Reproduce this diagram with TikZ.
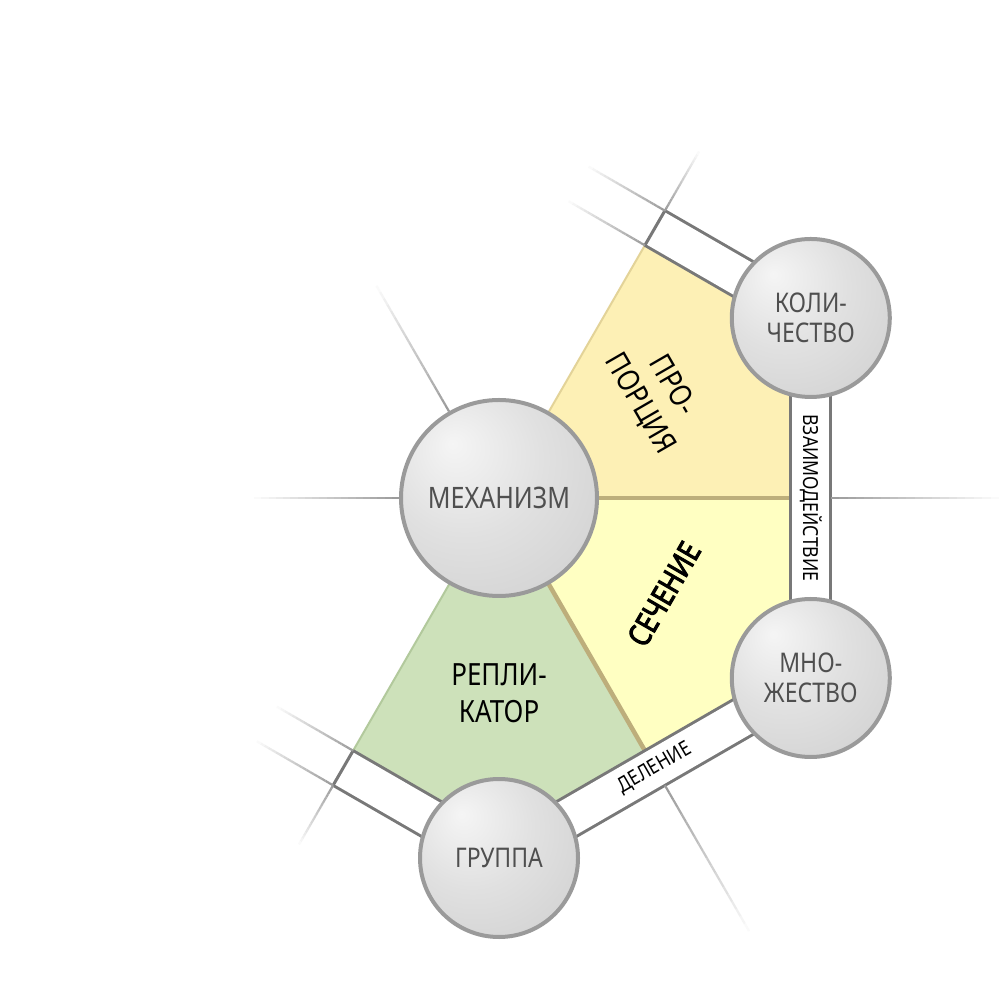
\documentclass[tikz,border=0pt]{standalone}
\usepackage{fontspec}
\setmainfont{Noto Sans}[FakeStretch=0.85]
\newfontfamily\heavyfont{Noto Sans}[FakeStretch=0.82, FakeBold=3]
\usetikzlibrary{calc,backgrounds}

\definecolor{bandgray}{HTML}{787878}
\definecolor{fadegray}{HTML}{9C9C9C}
\definecolor{hubline}{HTML}{9A9A9A}
\definecolor{hubtext}{HTML}{4F4F4F}
\definecolor{propfill}{HTML}{FDF0B5}
\definecolor{propline}{HTML}{E3D398}
\definecolor{sechfill}{HTML}{FFFFC2}
\definecolor{replfill}{HTML}{CDE1BA}
\definecolor{replline}{HTML}{B2C99C}
\definecolor{seamtan}{HTML}{BDAE7B}

\pgfdeclareradialshading{orb}{\pgfpoint{-12bp}{14bp}}{color(0bp)=(white!96!black); color(20bp)=(white!88!black); color(50bp)=(white!79!black); color(70bp)=(white!75!black)}

% line that fades out towards its end
\newcommand\fadeline[2]{%
  \foreach \k in {0,...,19}{%
    \pgfmathsetmacro\ta{\k/20}%
    \pgfmathsetmacro\tb{(\k+1)/20}%
    \pgfmathtruncatemacro\tint{100-5*\k}%
    \draw[fadegray!\tint, line width=0.022cm] ($#1!\ta!#2$) -- ($#1!\tb!#2$);
  }}

\begin{document}
\begin{tikzpicture}[
  hub/.style={circle, draw=hubline, line width=0.04cm, shade, shading=orb, inner sep=0pt,
    minimum size=1.58cm, align=center, text=hubtext, font=\fontsize{7.7}{8.4}\selectfont},
  zone/.style={align=center, font=\fontsize{8.7}{10.6}\selectfont},
  band/.style={draw=bandgray, line width=0.03cm, double=white, double distance=0.37cm},
  tag/.style={font=\fontsize{5.9}{7}\selectfont, inner sep=0pt},
  seam/.style={seamtan, line width=0.045cm}]
  \useasboundingbox (-4.99,-5.02) rectangle (5.01,4.98);

  % Noeuds
  \node[hub, minimum size=1.96cm, font=\fontsize{8.4}{10}\selectfont] (mech) at (0,0) {МЕХАНИЗМ};
  \node[hub] (kol) at (30:3.6) {КОЛИ-\\ЧЕСТВО};
  \node[hub] (mno) at (-30:3.6) {МНО-\\ЖЕСТВО};
  \node[hub] (grp) at (-90:3.6) {ГРУППА};
  \coordinate (kp) at (60:3.1177);
  \coordinate (gq) at (240:3.1177);

  % Zones
  \node[zone, rotate=-60] (prop) at (1.57,1.03) {ПРО-\\ПОРЦИЯ};
  \node[zone, rotate=60, font=\fontsize{8.8}{10}\heavyfont] (sech) at (1.65,-0.96) {СЕЧЕНИЕ};
  \node[zone] (repl) at (0,-1.95) {РЕПЛИ-\\КАТОР};

  \begin{scope}[on background layer]
    \fill[white] (-4.99,-5.02) rectangle (5.01,4.98);
    \fill[propfill] (mech.center) -- (60:2.9177) -- (2.9177,1.6845) -- (2.9177,0) -- cycle;
    \fill[sechfill] (mech.center) -- (2.9177,0) -- (2.9177,-1.6845) -- (-60:2.9177) -- cycle;
    \fill[replfill] (mech.center) -- (-60:2.9177) -- (0,-3.369) -- (240:2.9177) -- cycle;
    \draw[propline, line width=0.02cm] (mech.center) -- (60:2.9177);
    \draw[replline, line width=0.02cm] (mech.center) -- (240:2.9177);
    \draw[seam] (mech.center) -- (2.9177,0);
    \draw[seam] (mech.center) -- (-60:2.9177);

    % Liens
    \draw[band] (kol.center) -- (mno.center) node[midway, tag, rotate=-90] {ВЗАИМОДЕЙСТВИЕ};
    \draw[band] (mno.center) -- (grp.center) node[midway, tag, rotate=30] {ДЕЛЕНИЕ};
    \draw[band] (kol.center) -- (kp);
    \draw[band] (grp.center) -- (gq);
    \draw[bandgray, line width=0.03cm] (60:2.9177) -- (60:3.3177);
    \draw[bandgray, line width=0.03cm] (240:2.9177) -- (240:3.3177);

    % Prolongements
    \coordinate (ka) at ($(60:2.9177)+(150:0.88)$);
    \coordinate (kb) at ($(60:3.3177)+(150:0.88)$);
    \coordinate (ga) at ($(240:2.9177)+(150:0.88)$);
    \coordinate (gb) at ($(240:3.3177)+(150:0.88)$);
    \fadeline{(120:1)}{(120:2.45)}
    \fadeline{(180:1)}{(180:2.45)}
    \fadeline{(0:3.3177)}{(0:5)}
    \fadeline{(-60:3.3177)}{(-60:5)}
    \fadeline{(60:3.3177)}{(60:4)}
    \fadeline{(240:3.3177)}{(240:4)}
    \fadeline{(60:2.9177)}{(ka)}
    \fadeline{(60:3.3177)}{(kb)}
    \fadeline{(240:2.9177)}{(ga)}
    \fadeline{(240:3.3177)}{(gb)}
  \end{scope}
\end{tikzpicture}
\end{document}
